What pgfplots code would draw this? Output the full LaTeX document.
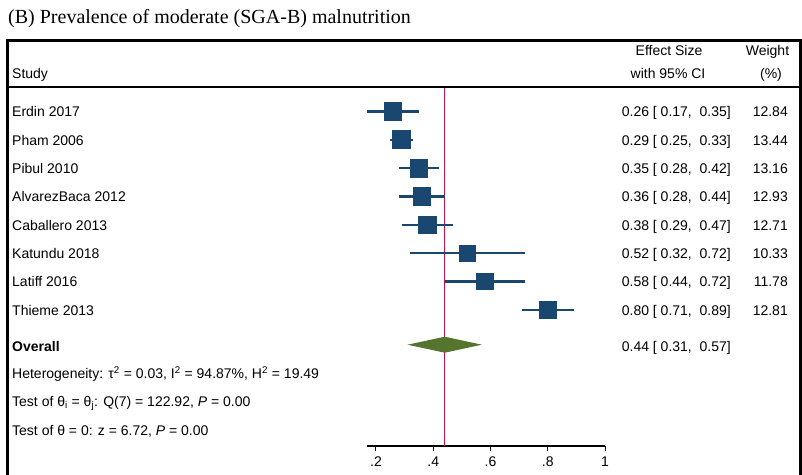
\documentclass[border=0pt]{standalone}
\usepackage{fontspec}
\setmainfont{Liberation Sans}
\newfontfamily\titlefont{Liberation Serif}
\usepackage{pgfplots}
\pgfplotsset{compat=1.18}
\usepackage{pgfplotstable}

\definecolor{navy}{RGB}{26,71,111}
\definecolor{fgreen}{RGB}{85,117,47}
\definecolor{refred}{RGB}{200,16,70}

% y = minus the pixel row of each study
\pgfplotstableread{
study        es    lo    hi    w      y
Erdin        0.26  0.17  0.35  12.84  -111.5
Pham         0.29  0.25  0.33  13.44  -139.8
Pibul        0.35  0.28  0.42  13.16  -168.2
AlvarezBaca  0.36  0.28  0.44  12.93  -196.5
Caballero    0.38  0.29  0.47  12.71  -224.8
Katundu      0.52  0.32  0.72  10.33  -253.2
Latiff       0.58  0.44  0.72  11.78  -281.5
Thieme       0.80  0.71  0.89  12.81  -309.8
}\studies

\pgfplotsset{sq/.style={only marks, mark=square*, navy,
    mark options={draw=navy, fill=navy, line width=0pt}}}

\begin{document}
\fontsize{14}{16}\selectfont
\begin{tikzpicture}
\path[use as bounding box] (0,0) rectangle (802pt,-474pt);

\begin{axis}[
    at={(367.4pt,-446pt)}, anchor=south west,
    scale only axis,
    width=237.6pt, height=406pt,
    xmin=0.17, xmax=1,
    ymin=-446, ymax=-40,
    clip=false,
    axis x line*=bottom,
    axis y line=none,
    axis line style={-, line width=1.4pt},
    xtick={0.2,0.4,0.6,0.8,1},
    xticklabels={.2,.4,.6,.8,1},
    tick align=outside,
    major tick length=5pt,
    tick style={black, line width=1pt},
    xticklabel style={font=\fontsize{14}{16}\selectfont, inner sep=2pt, yshift=-4pt},
]
% overall effect line
\addplot[refred, line width=1.3pt] coordinates {(0.44,-88) (0.44,-446)};

% confidence intervals
\addplot[draw=none, mark=none,
    error bars/.cd, x dir=both, x explicit, error mark=none,
    error bar style={line width=2.2pt, navy, solid}]
  table[x=es, y=y,
        x error minus expr=\thisrow{es}-\thisrow{lo},
        x error plus expr=\thisrow{hi}-\thisrow{es}] \studies;

% squares, half side 8.75pt*sqrt(weight/12.84)
\addplot[sq, mark size=8.75pt] coordinates {(0.26,-111.5)};
\addplot[sq, mark size=8.95pt] coordinates {(0.29,-139.8)};
\addplot[sq, mark size=8.86pt] coordinates {(0.35,-168.2)};
\addplot[sq, mark size=8.78pt] coordinates {(0.36,-196.5)};
\addplot[sq, mark size=8.71pt] coordinates {(0.38,-224.8)};
\addplot[sq, mark size=7.85pt] coordinates {(0.52,-253.2)};
\addplot[sq, mark size=8.38pt] coordinates {(0.58,-281.5)};
\addplot[sq, mark size=8.74pt] coordinates {(0.80,-309.8)};

% overall diamond
\addplot[fill=fgreen, draw=none] coordinates
  {(0.31,-344.7) (0.44,-336.7) (0.57,-344.7) (0.44,-352.7)} -- cycle;
\end{axis}

\begin{scope}[x=1pt, y=-1pt]
  % title
  \node[anchor=base west, inner sep=0, font=\titlefont\fontsize{20}{22}\selectfont]
    at (8,23) {(B) Prevalence of moderate (SGA-B) malnutrition};
  % frame
  \draw[line width=3pt] (7,480) -- (7,40) -- (800,40) -- (800,480);
  \draw[line width=2pt] (7,86.7) -- (800,86.7);
  % header
  \node[anchor=mid west, inner sep=0] at (12,74.5) {Study};
  \node[anchor=mid, inner sep=0] at (669,51.5) {Effect Size};
  \node[anchor=mid, inner sep=0] at (668,74.5) {with 95\% CI};
  \node[anchor=mid, inner sep=0] at (767.5,51.5) {Weight};
  \node[anchor=mid, inner sep=0] at (771,74.5) {(\%)};
  % rows
  \foreach \name/\es/\w [count=\i from 0] in {
      {Erdin 2017}/{0.26 [ 0.17,\ \ 0.35]}/{12.84},
      {Pham 2006}/{0.29 [ 0.25,\ \ 0.33]}/{13.44},
      {Pibul 2010}/{0.35 [ 0.28,\ \ 0.42]}/{13.16},
      {AlvarezBaca 2012}/{0.36 [ 0.28,\ \ 0.44]}/{12.93},
      {Caballero 2013}/{0.38 [ 0.29,\ \ 0.47]}/{12.71},
      {Katundu 2018}/{0.52 [ 0.32,\ \ 0.72]}/{10.33},
      {Latiff 2016}/{0.58 [ 0.44,\ \ 0.72]}/{11.78},
      {Thieme 2013}/{0.80 [ 0.71,\ \ 0.89]}/{12.81}} {
    \pgfmathsetmacro{\yy}{113+28.33*\i}
    \node[anchor=mid west, inner sep=0] at (12,\yy) {\name};
    \node[anchor=mid east, inner sep=0] at (731,\yy) {\es};
    \node[anchor=mid east, inner sep=0] at (788,\yy) {\w};
  }
  \node[anchor=mid west, inner sep=0] at (12,347.5) {\bfseries Overall};
  \node[anchor=mid east, inner sep=0] at (731,347.5) {0.44 [ 0.31,\ \ 0.57]};
  \node[anchor=mid west, inner sep=0] at (12,375)
    {Heterogeneity: τ\textsuperscript{2} = 0.03, I\textsuperscript{2} = 94.87\%, H\textsuperscript{2} = 19.49};
  \node[anchor=mid west, inner sep=0] at (12,403)
    {Test of θ\textsubscript{i} = θ\textsubscript{j}: Q(7) = 122.92, \textit{P} = 0.00};
  \node[anchor=mid west, inner sep=0] at (12,431.5)
    {Test of θ = 0: z = 6.72, \textit{P} = 0.00};
\end{scope}
\end{tikzpicture}
\end{document}
